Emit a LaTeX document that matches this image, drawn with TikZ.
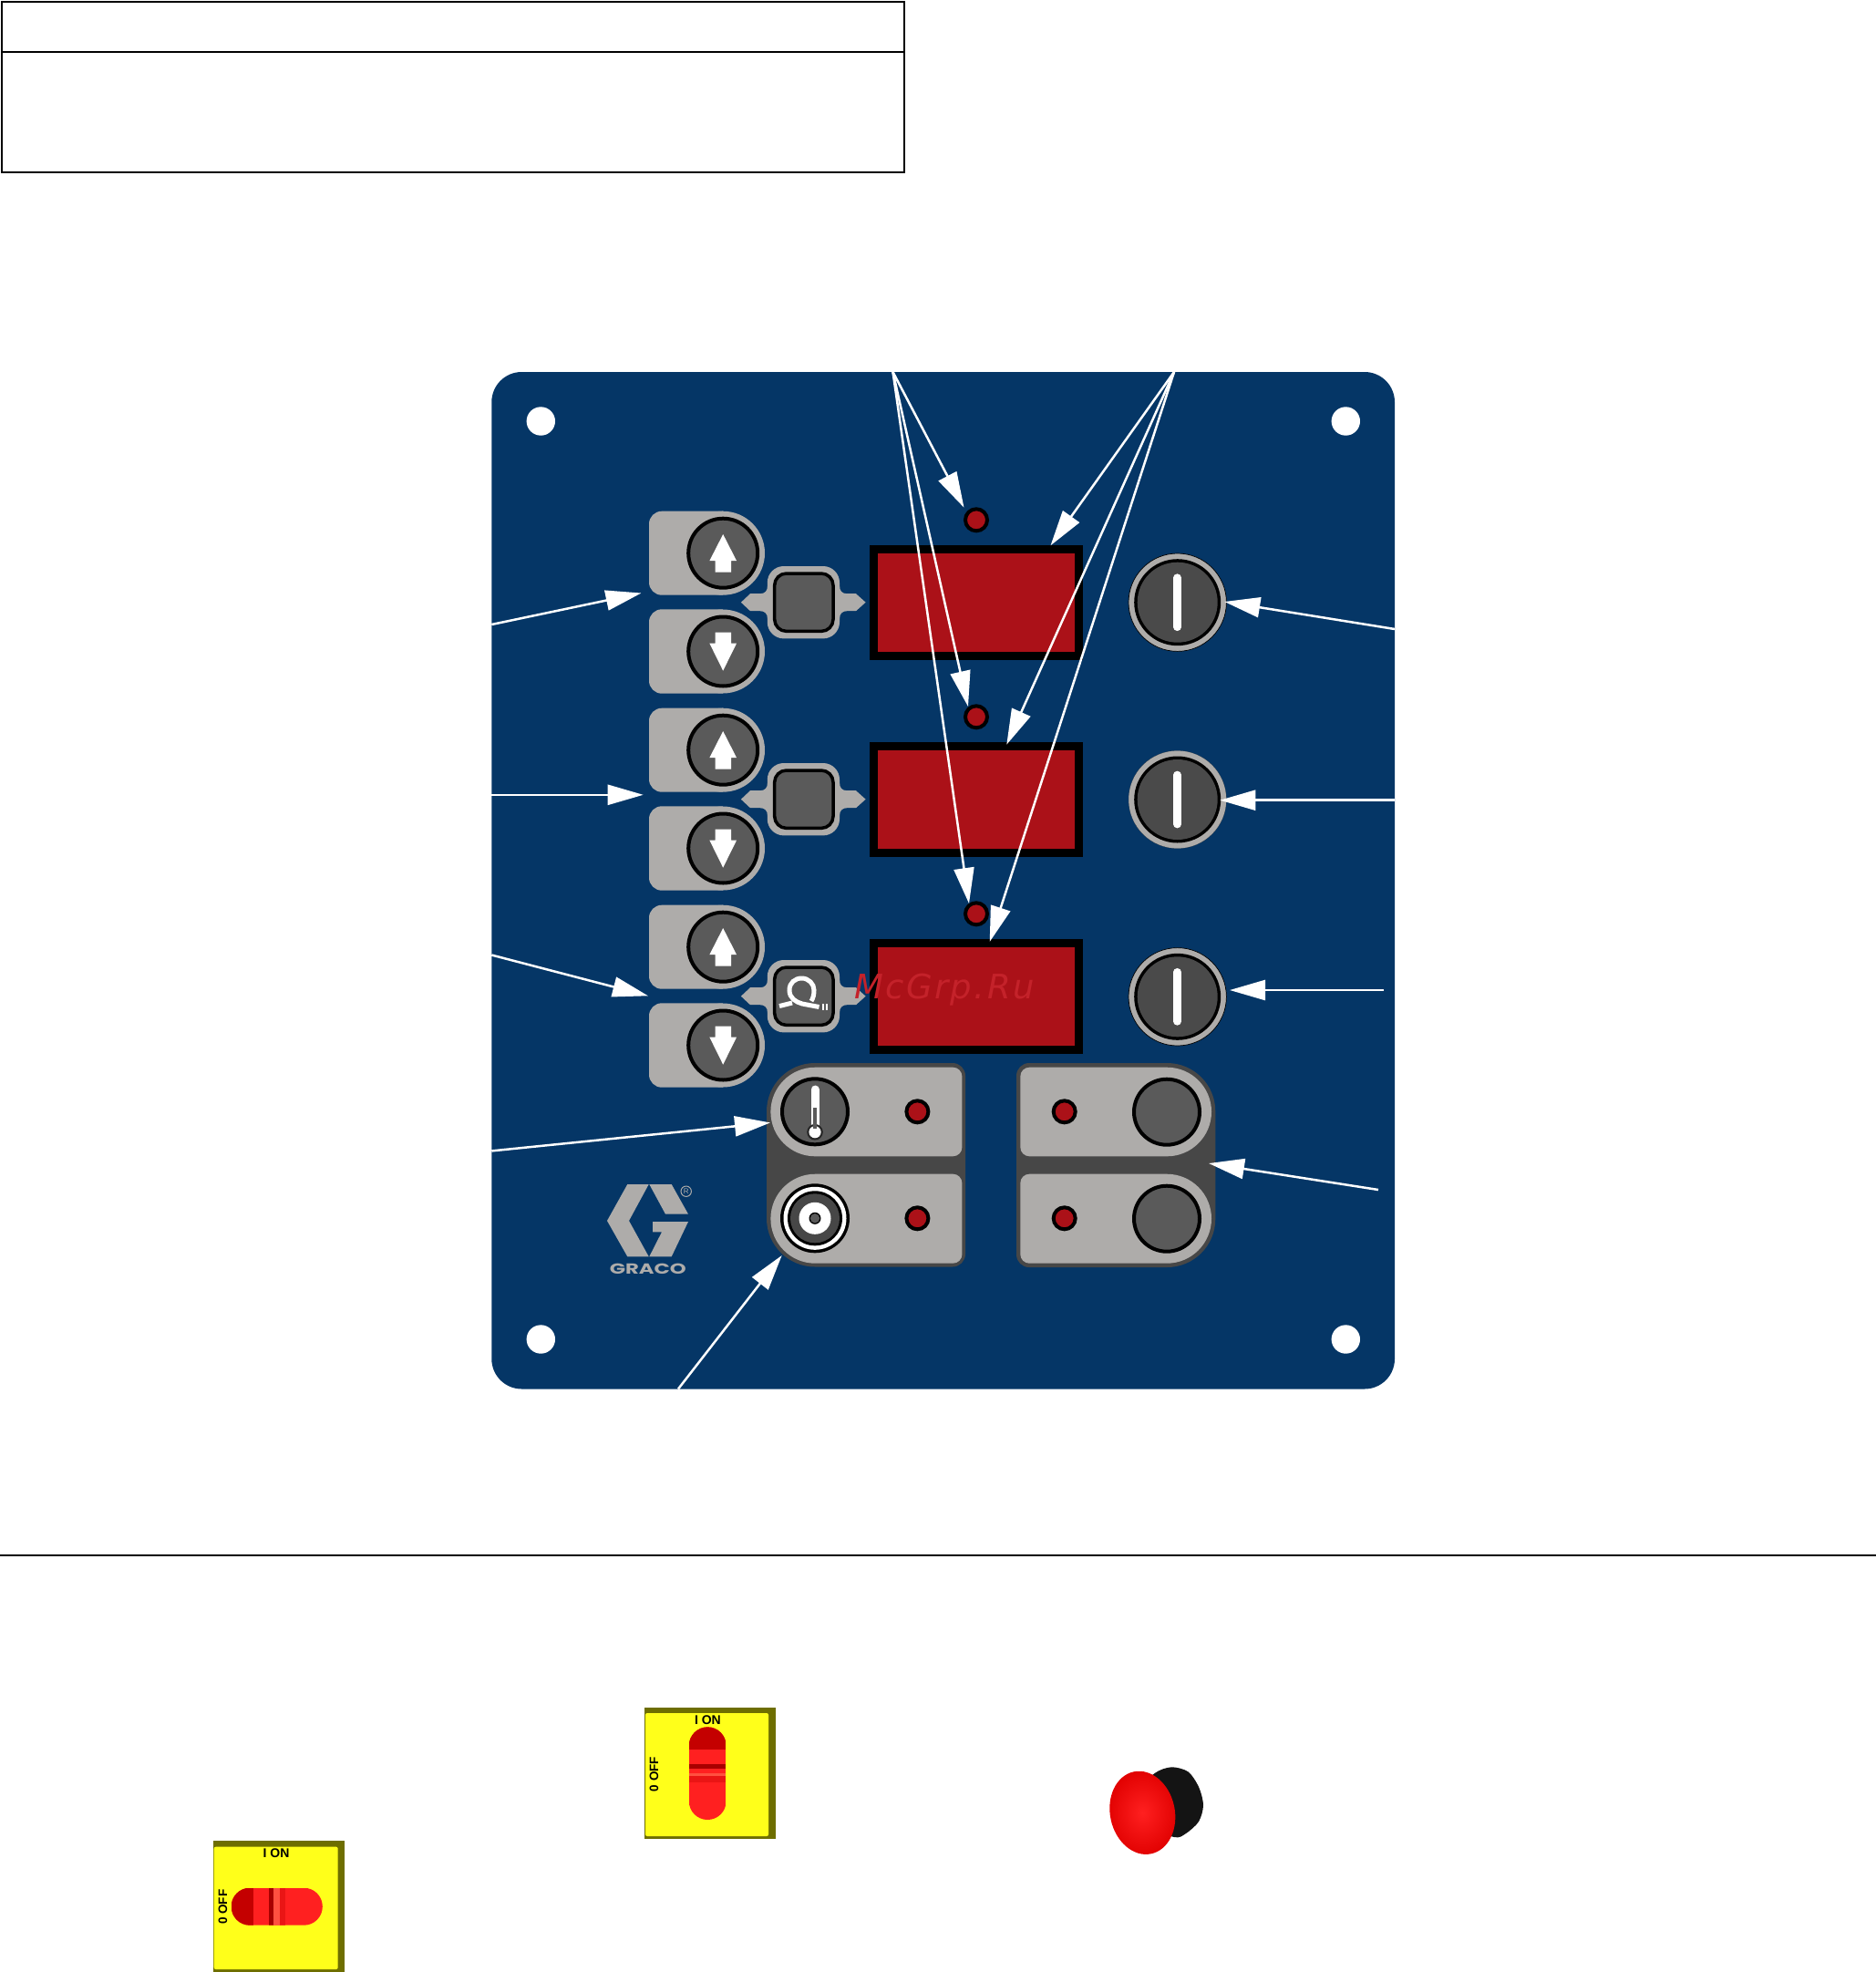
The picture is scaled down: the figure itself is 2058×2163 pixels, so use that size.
\documentclass[tikz,border=0pt]{standalone}
\usepackage{fontspec}
\setmainfont{Liberation Sans}
\newfontfamily\wmfont[LetterSpace=6.5]{DejaVu Sans}
\newfontfamily\gracofont{Poppins}
\usetikzlibrary{arrows.meta}
\definecolor{panelblue}{HTML}{053666}
\definecolor{padgray}{HTML}{AEACAA}
\definecolor{capgray}{HTML}{5A5A5A}
\definecolor{trimgray}{HTML}{474747}
\definecolor{knobgray}{HTML}{4A4A4A}
\definecolor{ledred}{HTML}{AB1118}
\definecolor{wmred}{HTML}{C4222A}
\definecolor{swyellow}{HTML}{FFFF1A}
\definecolor{swolive}{HTML}{6E6E00}
\definecolor{swred}{HTML}{FF2020}
\definecolor{swdark}{HTML}{C40000}
\definecolor{swdeep}{HTML}{A80000}
\definecolor{swlight}{HTML}{FF5040}
\tikzset{
  callout/.style={draw=white,line width=2.5pt,-{Triangle[length=39pt,width=22pt,fill=white]}},
  tablerule/.style={draw=black,line width=2pt},
  capring/.style={fill=capgray,draw=black,line width=4pt},
  led/.style={fill=ledred,draw=black,line width=4pt},
  padshape/.style={fill=padgray},
  slotline/.style={draw=white,line width=8.7pt,line cap=round},
  hoseline/.style={draw=white,line width=5pt},
  swtext/.style={inner sep=0pt,text=black,font=\bfseries\fontsize{14}{14}\selectfont},
  logofill/.style={fill=padgray},
}
\begin{document}
\begin{tikzpicture}[x=1pt,y=-1pt]
\useasboundingbox (0,0) rectangle (2058,2163);
% empty table
\draw[tablerule] (2,1.7) rectangle (992,189);
\draw[tablerule] (2,56.7) -- (992,56.7);
% panel
\fill[panelblue,rounded corners=33pt] (539.3,408) rectangle (1530,1523.5);
\foreach \hx/\hy in {593.3/462,1476.3/462,593.3/1469,1476.3/1469}
  \fill[white] (\hx,\hy) circle[radius=15.7pt];
% three rows
\foreach \r in {0,216,432}{
  % up pad
  \fill[padshape,rounded corners=14pt] (793,560.7+\r) -- (712,560.7+\r) -- (712,652.7+\r) -- (793,652.7+\r);
  \fill[padshape] (793,606.7+\r) circle[radius=46pt];
  \draw[capring] (793.2,606.7+\r) circle[radius=38pt];
  \fill[white] (793.2,586+\r) -- (808,615+\r) -- (802,615+\r) -- (802,627.7+\r) -- (784.6,627.7+\r) -- (784.6,615+\r) -- (778.4,615+\r) -- cycle;
  % down pad
  \fill[padshape,rounded corners=14pt] (793,668.3+\r) -- (712,668.3+\r) -- (712,760.7+\r) -- (793,760.7+\r);
  \fill[padshape] (793,714.5+\r) circle[radius=46pt];
  \draw[capring] (793.2,714.5+\r) circle[radius=38pt];
  \fill[white] (793.2,735.7+\r) -- (808,705.7+\r) -- (802,705.7+\r) -- (802,693.7+\r) -- (784.6,693.7+\r) -- (784.6,705.7+\r) -- (778.4,705.7+\r) -- cycle;
  % selector key with flared tabs
  \fill[padshape] (812.9,660.7+\r) -- (823,651.2+\r) -- (834,651.2+\r) .. controls (839,651.2+\r) and (842,648+\r) .. (842,643+\r)
     -- (921,643+\r) .. controls (921,648+\r) and (924,651.2+\r) .. (929,651.2+\r) -- (939,651.2+\r) -- (949.6,660.7+\r)
     -- (939,670.2+\r) -- (929,670.2+\r) .. controls (924,670.2+\r) and (921,673.4+\r) .. (921,678.4+\r)
     -- (842,678.4+\r) .. controls (842,673.4+\r) and (839,670.2+\r) .. (834,670.2+\r) -- (823,670.2+\r) -- cycle;
  \fill[padshape,rounded corners=18pt] (841.8,621+\r) rectangle (921,700.4+\r);
  \draw[capring,line width=3.5pt,rounded corners=13pt] (849.7,629+\r) rectangle (914,692.4+\r);
  % display
  \draw[fill=ledred,draw=black,line width=9pt] (958.5,602.5+\r) rectangle (1183.5,719.5+\r);
  % LED
  \draw[led] (1071,570.3+\r) circle[radius=12pt];
}
% hose icon
\draw[hoseline] (855,1103.5) -- (869,1100);
\draw[hoseline] (898.5,1104.5) -- (880,1101) .. controls (873,1099) and (866,1095) .. (866,1086) .. controls (866,1078) and (872,1073) .. (879.5,1073) .. controls (887,1073) and (893,1079) .. (893,1086) .. controls (893,1091) and (892,1095) .. (890,1098);
\draw[white,line width=2pt] (903.3,1101) -- (903.3,1107.7);
\draw[white,line width=2pt] (907.3,1101) -- (907.3,1107.7);
% knobs
\foreach \ky/\rim in {660.7/0.7,877/0.01,1093.3/0.7}{
  \draw[fill=padgray,draw=black,line width=\rim pt] (1291.7,\ky) circle[radius=53.7pt];
  \fill[black] (1291.7,\ky) circle[radius=47.5pt];
  \fill[knobgray] (1291.7,\ky) circle[radius=44pt];
  \draw[slotline] (1291.5,\ky-27) -- (1291.5,\ky+27);
}
% left lower group
\fill[trimgray] (950,1166) [rounded corners=53pt] -- (841,1166) -- (841,1389.5) -- (950,1389.5) [rounded corners=14pt] -- (1059,1389.5) -- (1059,1166) -- (950,1166);
\fill[padgray] (950,1170.7) [rounded corners=48.8pt] -- (845.4,1170.7) -- (845.4,1268.3) -- (950,1268.3) [rounded corners=10pt] -- (1055.4,1268.3) -- (1055.4,1170.7) -- (950,1170.7);
\fill[padgray] (950,1287.7) [rounded corners=49pt] -- (845.4,1287.7) -- (845.4,1385.7) -- (950,1385.7) [rounded corners=10pt] -- (1055.4,1385.7) -- (1055.4,1287.7) -- (950,1287.7);
% right lower group
\fill[trimgray] (1225,1166) [rounded corners=14pt] -- (1115,1166) -- (1115,1390) -- (1225,1390) [rounded corners=53pt] -- (1333.3,1390) -- (1333.3,1166) -- (1225,1166);
\fill[padgray] (1225,1170.7) [rounded corners=10pt] -- (1119.3,1170.7) -- (1119.3,1268.3) -- (1225,1268.3) [rounded corners=48.8pt] -- (1329,1268.3) -- (1329,1170.7) -- (1225,1170.7);
\fill[padgray] (1225,1287.7) [rounded corners=10pt] -- (1119.3,1287.7) -- (1119.3,1385.7) -- (1225,1385.7) [rounded corners=49pt] -- (1329,1385.7) -- (1329,1287.7) -- (1225,1287.7);
% thermometer button
\draw[capring] (894,1219.3) circle[radius=36pt];
\draw[white,line width=9pt,line cap=round] (894,1195) -- (894,1235);
\fill[black!85] (894,1241.7) circle[radius=8.8pt];
\fill[white] (894,1241.7) circle[radius=6.6pt];
\draw[capgray,line width=4pt] (894,1215) -- (894,1238);
% pressure button
\fill[black] (894,1336.3) circle[radius=38pt];
\fill[white] (894,1336.3) circle[radius=34.5pt];
\fill[black] (894,1336.3) circle[radius=30pt];
\fill[trimgray] (894,1336.3) circle[radius=27pt];
\fill[white] (894,1336.3) circle[radius=17.5pt];
\fill[black] (894,1336.3) circle[radius=6.5pt];
\fill[capgray] (894,1336.3) circle[radius=5.2pt];
% right circle buttons
\draw[capring] (1280,1219.7) circle[radius=36pt];
\draw[capring] (1280,1336.7) circle[radius=36pt];
% lower LEDs
\foreach \lx/\ly in {1006.4/1219.3,1006.4/1336.3,1167.7/1219.3,1167.7/1336.3}
  \draw[led] (\lx,\ly) circle[radius=12pt];
% logo
\fill[logofill] (688.3,1299) -- (711.7,1299) -- (690,1339) -- (711.7,1378.3) -- (688.3,1378.3) -- (666,1339) -- cycle;
\fill[logofill] (712.3,1299) -- (736.7,1299) -- (755,1331.7) -- (730,1331.7) -- cycle;
\fill[logofill] (716,1340) -- (755,1340) -- (736.7,1378.3) -- (712.3,1378.3) -- (726,1351.3) -- (716,1351.3) -- cycle;
\node[inner sep=0pt,text=padgray,xscale=1.42,transform shape,font=\gracofont\bfseries\fontsize{16}{16}\selectfont] (gracotext) at (710.8,1391.7) {GRACO};
\draw[padgray,line width=1pt] (752.7,1306.7) circle[radius=5.7pt];
\node[inner sep=0pt,text=padgray,font=\fontsize{8}{8}\selectfont] (regmark) at (752.7,1306.7) {R};
% callouts
\coordinate (topL) at (979.5,408);
\coordinate (topR) at (1288,408);
\coordinate (tipLedA) at (1057.5,556.7);
\coordinate (tipLedB) at (1062,775);
\coordinate (tipLedC) at (1063,991);
\coordinate (tipDispA) at (1152.5,598.3);
\coordinate (tipDispB) at (1104.3,816.7);
\coordinate (tipDispC) at (1085.7,1033);
\draw[callout] (topL) -- (tipLedA);
\draw[callout] (topL) -- (tipLedB);
\draw[callout] (topL) -- (tipLedC);
\draw[callout] (topR) -- (tipDispA);
\draw[callout] (topR) -- (tipDispB);
\draw[callout] (topR) -- (tipDispC);
\coordinate (srcLa) at (539.3,685);    \coordinate (tipLa) at (703.5,650.5);
\coordinate (srcLb) at (539.3,871.8);  \coordinate (tipLb) at (705.7,871.8);
\coordinate (srcLc) at (539.3,1047.5); \coordinate (tipLc) at (711,1092.3);
\coordinate (srcLd) at (539.3,1262.4); \coordinate (tipLd) at (845,1231.4);
\coordinate (srcBt) at (744,1523.5);   \coordinate (tipBt) at (857.7,1377);
\coordinate (srcRa) at (1530,690);     \coordinate (tipRa) at (1343.3,660);
\coordinate (srcRb) at (1530,877.7);   \coordinate (tipRb) at (1338.3,877.7);
\coordinate (srcRc) at (1518.3,1086);  \coordinate (tipRc) at (1349,1086);
\coordinate (srcRd) at (1512,1305);    \coordinate (tipRd) at (1326,1276);
\foreach \s/\t in {srcLa/tipLa,srcLb/tipLb,srcLc/tipLc,srcLd/tipLd,srcBt/tipBt,srcRa/tipRa,srcRb/tipRb,srcRc/tipRc,srcRd/tipRd}
  \draw[callout] (\s) -- (\t);
% watermark
\node[anchor=base west,inner sep=0pt,text=wmred,font=\wmfont\itshape\fontsize{37}{37}\selectfont] (watermark) at (937,1095) {McGrp.Ru};
% separator
\draw[black,line width=2pt] (0,1706.2) -- (2058,1706.2);
% vertical-handle switch
\fill[swolive] (707,1872.7) rectangle (851,2016.7);
\fill[swyellow,rounded corners=2pt] (708,1879) rectangle (843,2014);
\begin{scope}
  \clip[rounded corners=20.4pt] (755.8,1894.3) rectangle (796.6,1996);
  \fill[swred] (755.8,1894.3) rectangle (796.6,1996);
  \fill[swdark] (755.8,1894.3) rectangle (796.6,1919.3);
  \fill[swdeep] (755.8,1935) rectangle (796.6,1940);
  \fill[swlight] (755.8,1945) rectangle (796.6,1948);
  \fill[swdark!35!swred] (755.8,1948) rectangle (796.6,1955);
\end{scope}
\node[swtext] (onA) at (776.4,1886.7) {I ON};
\node[swtext,rotate=90,font=\bfseries\fontsize{13.5}{13.5}\selectfont] (offA) at (717.5,1946) {0 OFF};
% horizontal-handle switch
\fill[swolive] (234,2019) rectangle (378,2163);
\fill[swyellow,rounded corners=2pt] (234.7,2025.7) rectangle (370.7,2160);
\begin{scope}
  \clip[rounded corners=20.4pt] (253.7,2070.7) rectangle (353.8,2111.7);
  \fill[swred] (253.7,2070.7) rectangle (353.8,2111.7);
  \fill[swdark] (253.7,2070.7) rectangle (278,2111.7);
  \fill[swdeep] (294.5,2070.7) rectangle (300,2111.7);
  \fill[swlight] (300,2070.7) rectangle (307,2111.7);
  \fill[swdark!35!swred] (307,2070.7) rectangle (313,2111.7);
\end{scope}
\node[swtext] (onB) at (303,2033) {I ON};
\node[swtext,rotate=90,font=\bfseries\fontsize{13.5}{13.5}\selectfont] (offB) at (244.4,2091.7) {0 OFF};
% emergency stop
\fill[black!92] plot[smooth cycle] coordinates {(1266.7,1945) (1285,1938.3) (1303.3,1943.3) (1315,1960) (1320,1980) (1315,1998) (1301,2011) (1288,2015) (1255,2000) (1250,1965)};
\shade[shift={(1253.3,1988.3)},rotate=12,inner color=swred,outer color=red!88!black] (0,0) ellipse[x radius=35.5pt,y radius=46pt];
\end{tikzpicture}
\end{document}
